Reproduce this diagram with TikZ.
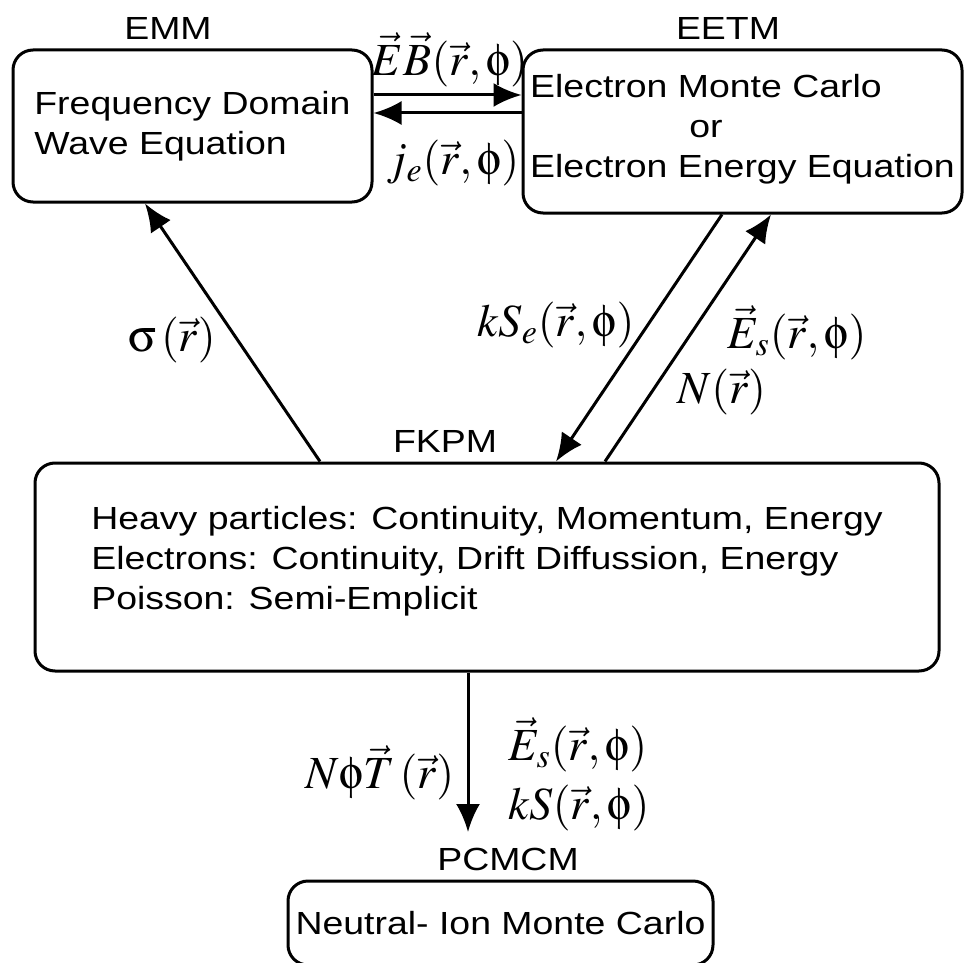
\documentclass[tikz,border=0pt]{standalone}
\usepackage{mathptmx}
\usepackage[Symbol]{upgreek}
\usepackage[no-math]{fontspec}
\setmainfont[FakeStretch=1.17]{Liberation Sans}
\usepackage{calc}
\usetikzlibrary{positioning}
\usetikzlibrary{arrows.meta}

\begin{document}
\begin{tikzpicture}[
    x=0.5pt,
    y=-0.5pt,
    >={Latex[length=14pt,width=12pt]},
    every node/.style={font=\fontsize{16}{20}\selectfont},
    block/.style={
        draw,
        line width=1.5pt,
        rounded corners=10pt,
        align=center
    },
    title/.style={inner sep=0pt},
    param/.style={inner sep=0pt, font=\fontsize{23}{27}\selectfont},
    arrow/.style={->, line width=1.5pt}
]
\useasboundingbox (0,0) rectangle (964,963);

% Main flow
\node[block, minimum width=179.5pt, minimum height=76pt, align=left] (emm) at (192.5,126) {Frequency Domain\\Wave Equation};
\node[block, minimum width=219.5pt, minimum height=81.5pt, align=left, text depth=6pt] (eetm) at (742.5,131.5) {Electron Monte Carlo\\\makebox[\widthof{Electron Monte Carlo}]{or}\\Electron Energy Equation};
\node[block, minimum width=452pt, minimum height=104pt, align=left, text depth=9pt] (fkpm) at (487,567) {Heavy particles: Continuity, Momentum, Energy\\Electrons: Continuity, Drift Diffussion, Energy\\Poisson: Semi-Emplicit};
\node[block, minimum width=212.5pt, minimum height=42pt] (pcmcm) at (500.5,923) {Neutral- Ion Monte Carlo};

\node[title] (emmname) at (168,28) {EMM};
\node[title] (eetmname) at (728,28) {EETM};
\node[title] (fkpmname) at (445,441) {FKPM};
\node[title] (pcmcmname) at (508,859) {PCMCM};

\coordinate (pcmtip) at (468,832);

% Labels
\node[param] (fieldlbl) at (450,60) {$\vec{E}\vec{B}(\vec{r},\upphi)$};
\node[param] (currlbl) at (453,163) {$j_e(\vec{r},\upphi)$};
\node[param] (sigmalbl) at (172,340) {$\upsigma\,(\vec{r})$};
\node[param] (srclbl) at (556,325) {$kS_e(\vec{r},\upphi)$};
\node[param] (esatlbl) at (797,333) {$\vec{E}_s(\vec{r},\upphi)$};
\node[param] (denslbl) at (722,392) {$N(\vec{r})$};
\node[param] (ntlbl) at (380,773) {$N\upphi\vec{T}\,(\vec{r})$};
\node[param, anchor=west] (eslbl) at (508,745) {$\vec{E}_s(\vec{r},\upphi)$};
\node[param, anchor=west] (kslbl) at (508,808) {$kS(\vec{r},\upphi)$};

% Arrows
\draw[arrow] ([yshift=15.5pt]emm.east) -- ([yshift=15.5pt]emm.east -| eetm.west);
\draw[arrow] ([yshift=6.5pt]emm.east -| eetm.west) -- ([yshift=6.5pt]emm.east);

\draw[arrow] ([xshift=-83.5pt]fkpm.north) -- ([xshift=-23.75pt]emm.south);
\draw[arrow] ([xshift=-10.25pt]eetm.south) -- ([xshift=34.5pt]fkpm.north);
\draw[arrow] ([xshift=59pt]fkpm.north) -- ([xshift=14.25pt]eetm.south);

\draw[arrow] ([xshift=-9.5pt]fkpm.south) -- (pcmtip);

\end{tikzpicture}
\end{document}
